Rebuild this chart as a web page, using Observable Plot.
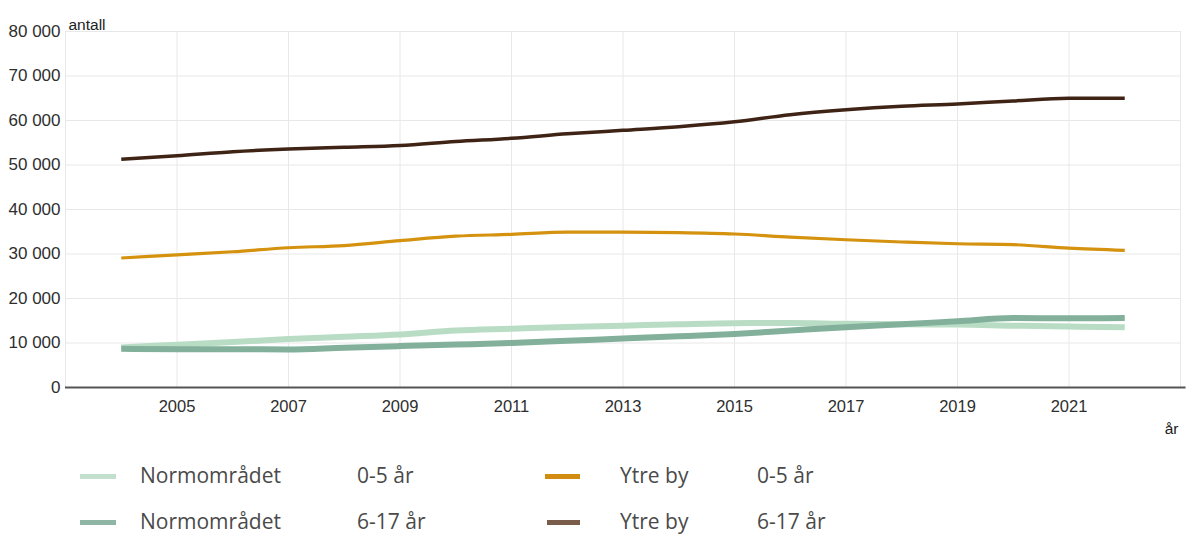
<!DOCTYPE html>
<html>
<head>
<meta charset="utf-8">
<script src="https://cdn.jsdelivr.net/npm/d3@7"></script>
<script src="https://cdn.jsdelivr.net/npm/@observablehq/plot@0.6"></script>
<style>
  html, body { margin: 0; padding: 0; background: #fff; }
  #wrap { position: relative; width: 1195px; height: 541px; overflow: hidden; }
  #legend { position: absolute; left: 0; top: 0; width: 1195px; height: 541px; pointer-events: none;
    font-family: "Open Sans", sans-serif; font-size: 21px; color: #4a4a4a; }
  .sw { position: absolute; height: 5px; }
  .lt { position: absolute; line-height: 1; transform: translateY(-50%); white-space: nowrap; }
</style>
</head>
<body>
<div id="wrap"><div id="chart"></div><div id="legend"></div></div>
<script>
const years = [2004,2005,2006,2007,2008,2009,2010,2011,2012,2013,2014,2015,2016,2017,2018,2019,2020,2021,2022];
const normo05  = [9000,9600,10200,10900,11400,11900,12800,13200,13600,13900,14200,14450,14500,14300,14200,14150,13900,13700,13550];
const normo617 = [8700,8600,8600,8550,8950,9300,9650,10000,10500,11000,11500,12050,12800,13550,14200,14900,15600,15550,15600];
const ytre05   = [29100,29800,30500,31400,31900,33000,34000,34400,34900,34900,34800,34500,33800,33200,32700,32300,32100,31300,30800];
const ytre617  = [51300,52100,53000,53600,54000,54400,55300,56000,57000,57800,58600,59700,61300,62400,63200,63700,64400,65000,65000];

const seriesNames = ["Normområdet", "Normområdet", "Ytre by", "Ytre by"];
const ageGroups = ["0-5 år", "6-17 år", "0-5 år", "6-17 år"];
const seriesValues = [normo05, normo617, ytre05, ytre617];
const lineColors = ["#b9dcc5", "#82b09b", "#d4920f", "#3f2416"];
const swatchColors = ["#c3dfcd", "#8fb6a4", "#d28c10", "#7a5c4a"];
const lineWidths = [6, 6, 3.2, 3.5];

const yTicks = [0,10000,20000,30000,40000,50000,60000,70000,80000];
const xGrid = [2003,2005,2007,2009,2011,2013,2015,2017,2019,2021,2023];
const xLabels = [2005,2007,2009,2011,2013,2015,2017,2019,2021];
const yLabel = "antall";
const xLabel = "år";

const fmt = d => d3.format(",")(d).replace(/,/g, " ");

const rows = (i) => years.map((y, j) => ({year: y, value: seriesValues[i][j]}));
const order = [3, 2, 0, 1];

const plot = Plot.plot({
  width: 1195,
  height: 450,
  marginLeft: 65,
  marginRight: 15,
  marginTop: 31,
  marginBottom: 63,
  style: {fontFamily: "'Liberation Sans', Arial, sans-serif", fontSize: "16px", color: "#333", background: "#fff", overflow: "visible"},
  x: {domain: [2003, 2023]},
  y: {domain: [0, 80000]},
  marks: [
    Plot.gridY(yTicks, {stroke: "#e8e8e8", strokeOpacity: 1}),
    Plot.gridX(xGrid, {stroke: "#e8e8e8", strokeOpacity: 1}),
    Plot.axisY(yTicks, {tickSize: 0, tickPadding: 5, tickFormat: fmt, fill: "#2e2e2e", fontSize: 17, label: null}),
    Plot.axisX(xLabels, {tickSize: 0, tickPadding: 13, tickFormat: d => String(d), fill: "#2e2e2e", fontSize: 16.5, label: null}),
    Plot.ruleY([0], {stroke: "#555", strokeWidth: 2, x1: 2003, x2: 2023.1}),
    ...order.map(i => Plot.line(rows(i), {x: "year", y: "value", stroke: lineColors[i], strokeWidth: lineWidths[i], strokeLinecap: "butt", strokeLinejoin: "round", curve: "monotone-x"})),
    Plot.text([yLabel], {frameAnchor: "top-left", dx: 3, dy: -13, fill: "#222", fontSize: 15.5, textAnchor: "start"}),
    Plot.text([xLabel], {frameAnchor: "bottom-right", dx: -2, dy: 46, fill: "#222", fontSize: 15.5, textAnchor: "end"})
  ]
});
document.getElementById("chart").appendChild(plot);

// legend
const leg = document.getElementById("legend");
const pos = [
  {sx: 80, sw: 36, sy: 476, nx: 140, ax: 357},
  {sx: 80, sw: 36, sy: 522, nx: 140, ax: 357},
  {sx: 545, sw: 35, sy: 476, nx: 620, ax: 757},
  {sx: 547, sw: 33, sy: 522, nx: 620, ax: 757}
];
seriesNames.forEach((n, i) => {
  const p = pos[i];
  const s = document.createElement("div");
  s.className = "sw";
  s.style.left = p.sx + "px"; s.style.top = (p.sy - 2.5) + "px"; s.style.width = p.sw + "px";
  s.style.background = swatchColors[i];
  leg.appendChild(s);
  const t1 = document.createElement("div");
  t1.className = "lt"; t1.style.left = p.nx + "px"; t1.style.top = (p.sy - 1) + "px"; t1.textContent = n;
  leg.appendChild(t1);
  const t2 = document.createElement("div");
  t2.className = "lt"; t2.style.left = p.ax + "px"; t2.style.top = (p.sy - 1) + "px"; t2.textContent = ageGroups[i];
  leg.appendChild(t2);
});
</script>
</body>
</html>
